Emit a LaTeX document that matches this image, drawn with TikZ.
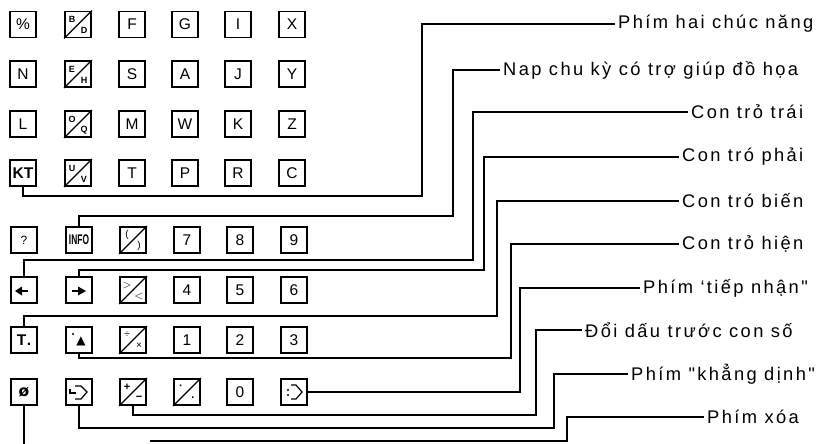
\documentclass[tikz,border=0pt]{standalone}
\usepackage{fontspec}
\usepackage{graphicx}
\setmainfont{Liberation Sans}
\newfontfamily\labfont[LetterSpace=13]{Liberation Sans}
\newfontfamily\symfont{DejaVu Sans}
\newcommand\slk[6]{%
  \node[key] (#1) at (#2,#3) {};
  \draw[kline] (#1.south west) -- (#1.north east);
  \node[inner sep=0pt,font=\fontsize{#6}{#6}\selectfont] (#1u) at ([xshift=-6pt,yshift=5pt]#1.center) {#4};
  \node[inner sep=0pt,font=\fontsize{#6}{#6}\selectfont] (#1l) at ([xshift=6pt,yshift=-6pt]#1.center) {#5};
}
\begin{document}
\begin{tikzpicture}[x=1pt,y=-1pt,
  key/.style={draw,line width=1.8pt,minimum size=26pt,inner sep=0pt,font=\fontsize{15.5}{15.5}\selectfont},
  kline/.style={line width=1.4pt},
  conn/.style={line width=1.2pt},
  lab/.style={anchor=west,inner sep=3pt,font=\labfont\fontsize{18.3}{20}\selectfont}]
\useasboundingbox (0,0) rectangle (816,444);

% ---- top group ----
\node[key] (k11) at (23,24.5) {\%};
\slk{k12}{78}{24.5}{\bfseries B}{\bfseries D}{9}
\node[key] (k13) at (132,24.5) {F};
\node[key] (k14) at (185,24.5) {G};
\node[key] (k15) at (238,24.5) {I};
\node[key] (k16) at (292,24.5) {X};

\node[key] (k21) at (23,74) {N};
\slk{k22}{78}{74}{\bfseries E}{\bfseries H}{9}
\node[key] (k23) at (132,74) {S};
\node[key] (k24) at (185,74) {A};
\node[key] (k25) at (238,74) {J};
\node[key] (k26) at (292,74) {Y};

\node[key] (k31) at (23,124) {L};
\slk{k32}{78}{124}{\bfseries O}{\bfseries Q}{9}
\node[key] (k33) at (132,124) {M};
\node[key] (k34) at (185,124) {W};
\node[key] (k35) at (238,124) {K};
\node[key] (k36) at (292,124) {Z};

\node[key] (k41) at (23,173) {\bfseries KT};
\slk{k42}{78}{173}{\bfseries U}{\bfseries V}{9}
\node[key] (k43) at (132,173) {T};
\node[key] (k44) at (185,173) {P};
\node[key] (k45) at (238,173) {R};
\node[key] (k46) at (292,173) {C};

% ---- bottom group ----
\node[key] (k51) at (24,240) {\fontsize{12}{12}\selectfont ?};
\node[key] (k52) at (79,240) {\scalebox{0.6}[1]{\fontsize{14}{14}\selectfont\bfseries INFO}};
\slk{k53}{133}{240}{(}{)}{10}
\node[key] (k54) at (187,240) {7};
\node[key] (k55) at (240,240) {8};
\node[key] (k56) at (294,240) {9};

\node[key] (k61) at (24,290) {};
\fill ([xshift=-9pt,yshift=-1pt]k61.center) -- ++(7,-4.5) -- ++(0,9) -- cycle;
\draw[line width=2.8pt] ([xshift=-3pt,yshift=-1pt]k61.center) -- ++(7,0);
\node[key] (k62) at (79,290) {};
\fill ([xshift=7pt,yshift=-1pt]k62.center) -- ++(-8,-4.5) -- ++(0,9) -- cycle;
\draw[line width=2.8pt] ([xshift=-7pt,yshift=-1pt]k62.center) -- ++(7,0);
\slk{k63}{133}{290}{$>$}{$<$}{12}
\node[key] (k64) at (187,290) {4};
\node[key] (k65) at (240,290) {5};
\node[key] (k66) at (294,290) {6};

\node[key] (k71) at (24,340) {\bfseries T\kern0.5pt.};
\node[key] (k72) at (79,340) {};
\fill ([xshift=-6pt,yshift=6pt]k72.center) circle (1.2pt);
\node[inner sep=0pt,font=\symfont\fontsize{12}{12}\selectfont] (k72s) at ([xshift=2pt,yshift=-1pt]k72.center) {▲};
\slk{k73}{133}{340}{÷}{×}{10}
\node[key] (k74) at (187,340) {1};
\node[key] (k75) at (240,340) {2};
\node[key] (k76) at (294,340) {3};

\node[key] (k81) at (24,392) {\symfont\bfseries ø};
\node[key] (k82) at (79,392) {};
\begin{scope}[shift={(k82.center)},line width=1.2pt]
  \draw (-9,-3) -- (-9,1) -- (-3,1);
  \draw (-4,-6) -- (2,-6) -- (8,0) -- (2,7) -- (-4,7);
\end{scope}
\slk{k83}{133}{392}{\bfseries +}{\bfseries −}{11}
\slk{k84}{187}{392}{\bfseries ·}{\bfseries .}{11}
\node[key] (k85) at (240,392) {0};
\node[key] (k86) at (294,392) {};
\begin{scope}[shift={(k86.center)},line width=1.2pt]
  \fill (-6,-2) circle (1.2pt);
  \fill (-6,3) circle (1.2pt);
  \draw (-3,-7) -- (2,-7) -- (8,0) -- (2,7) -- (-3,7);
\end{scope}

% ---- labels ----
\node[lab] (l1) at (615,24) {Phím hai chúc năng};
\node[lab] (l2) at (500,70) {Nap chu kỳ có trợ giúp đồ họa};
\node[lab] (l3) at (688,112) {Con trỏ trái};
\node[lab] (l4) at (679,157) {Con tró phải};
\node[lab] (l5) at (679,201) {Con tró biến};
\node[lab] (l6) at (679,244) {Con trỏ hiện};
\node[lab] (l7) at (640,288) {Phím ‘tiếp nhận"};
\node[lab] (l8) at (582,330) {Đổi dấu trước con số};
\node[lab] (l9) at (628,374) {Phím "khẳng dịnh"};
\node[lab] (l10) at (704,417) {Phím xóa};

% ---- connectors ----
\draw[conn] (k41.south) |- (422,196) |- (l1.west);
\draw[conn] (k52.north) |- (453,216) |- (l2.west);
\draw[conn] (k61.north) |- (473,260) |- (l3.west);
\draw[conn] (k62.north) |- (484,270) |- (l4.west);
\draw[conn] (k71.north) |- (497,316) |- (l5.west);
\draw[conn] (k72.south) |- (511,358) |- (l6.west);
\draw[conn] (k86.east) -- (520,392) |- (l7.west);
\draw[conn] (k83.south) |- (536,415) |- (l8.west);
\draw[conn] (k82.south) |- (554,428) |- (l9.west);
\coordinate (b0) at (24,444);
\draw[conn] (k81.south) -- (b0);
\coordinate (x0) at (150,441);
\draw[conn] (x0) -- (567,441) |- (l10.west);
\end{tikzpicture}
\end{document}
